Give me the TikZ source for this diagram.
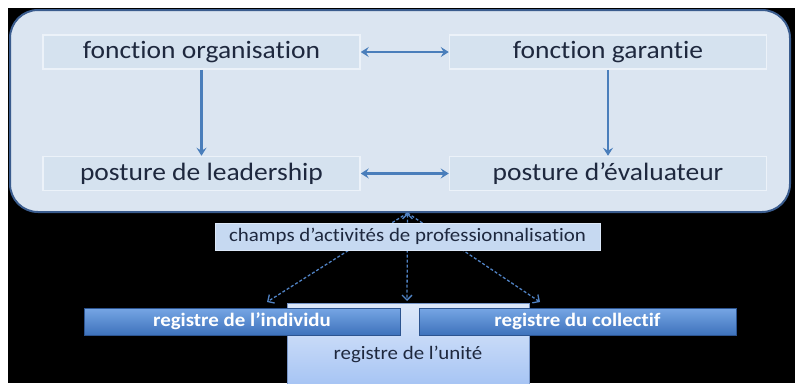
\documentclass[tikz,border=0pt]{standalone}
\usepackage{fontspec}
\setmainfont{Carlito}[FakeStretch=1.1, Ligatures=NoCommon]
\usetikzlibrary{arrows.meta,positioning}
\definecolor{PanelFill}{RGB}{219,229,241}
\definecolor{PanelEdge}{RGB}{58,92,142}
\definecolor{CellFill}{RGB}{213,226,239}
\definecolor{CellEdge}{RGB}{236,242,249}
\definecolor{Ink}{RGB}{30,40,62}
\definecolor{ArrowBlue}{RGB}{74,126,187}
\definecolor{ProbeBlue}{RGB}{80,130,195}
\definecolor{FieldFill}{RGB}{198,217,241}
\definecolor{FieldEdge}{RGB}{220,232,248}
\definecolor{RegTop}{RGB}{118,166,228}
\definecolor{RegBot}{RGB}{62,114,188}
\definecolor{RegEdge}{RGB}{44,84,144}
\definecolor{UnitTop}{RGB}{222,233,250}
\definecolor{UnitBot}{RGB}{166,196,244}
\definecolor{UnitEdge}{RGB}{120,150,200}
\pgfdeclarelayer{bg}
\pgfdeclarelayer{behind}
\pgfsetlayers{bg,behind,main}

\begin{document}
\begin{tikzpicture}[
    x=1pt, y=-1pt, font=\fontsize{25}{30}\selectfont, node distance=86pt and 88pt,
    panel/.style={draw=PanelEdge, line width=2pt, fill=PanelFill, rounded corners=28pt,
                minimum width=780pt, minimum height=202pt},
    cell/.style={draw=CellEdge, line width=1.5pt, fill=CellFill, text=Ink, inner sep=0pt,
                minimum width=317pt, minimum height=34pt},
    link/.style={{Stealth[length=8pt,width=10pt,inset=3pt]}-{Stealth[length=8pt,width=10pt,inset=3pt]},
                line width=2.2pt, ArrowBlue},
    down/.style={-{Stealth[length=8pt,width=10pt,inset=3pt]}, line width=2.2pt, ArrowBlue},
    field/.style={draw=FieldEdge, fill=FieldFill, text=Ink, inner sep=0pt,
                minimum width=385pt, minimum height=27pt, font=\fontsize{19}{23}\selectfont},
    probe/.style={-{Straight Barb[length=5pt,width=10pt]}, dash pattern=on 3pt off 2pt,
                line width=1.3pt, ProbeBlue},
    reg/.style={draw=RegEdge, top color=RegTop, bottom color=RegBot, text=white, inner sep=0pt,
                minimum height=27pt, font=\bfseries\fontsize{19}{23}\selectfont},
    unitbox/.style={draw=UnitEdge, top color=UnitTop, bottom color=UnitBot, text=Ink, inner sep=0pt,
                minimum width=242pt, minimum height=82pt, text height=35pt, text depth=5pt,
                font=\fontsize{19}{23}\selectfont}
  ]
    \useasboundingbox (0,0) rectangle (795,383);
    \begin{pgfonlayer}{bg}
      \fill[white] (0,0) rectangle (795,383);
      \fill[black] (8,8) rectangle (795,383);
      \node[panel] (panel) at (400,111) {};
    \end{pgfonlayer}

    % Functions and postures
    \node[cell] (orga) at (201.5,52) {fonction organisation};
    \node[cell, right=of orga] (garant) {fonction garantie};
    \node[cell, below=of orga] (lead) {posture de leadership};
    \node[cell, below=of garant] (eval) {posture d’évaluateur};

    \draw[link] (orga) -- (garant);
    \draw[link] (lead) -- (eval);
    \draw[down] (orga) -- (lead);
    \draw[down] (garant) -- (eval);

    % Field of activities
    \node[field] (champs) at (407.5,236.5) {champs d’activités de professionnalisation};
    \coordinate (apex) at (champs.north |- panel.south);

    % Registers
    \node[unitbox, anchor=north] (unit) at (408,303) {registre de l’unité};
    \node[reg, minimum width=316pt] (indiv) at (242,321.5) {registre de l’individu};
    \node[reg, minimum width=317pt] (collec) at (577.5,321.5) {registre du collectif};

    \coordinate (toIndiv) at (267,302);
    \coordinate (toUnit) at (407,301);
    \coordinate (toCollec) at (540,302);

    \begin{pgfonlayer}{behind}
      \draw[probe] (apex) -- (toIndiv);
      \draw[probe, {Straight Barb[length=5pt,width=10pt]}-{Straight Barb[length=5pt,width=10pt]}] (apex) -- (toUnit);
      \draw[probe] (apex) -- (toCollec);
    \end{pgfonlayer}
  \end{tikzpicture}
\end{document}
